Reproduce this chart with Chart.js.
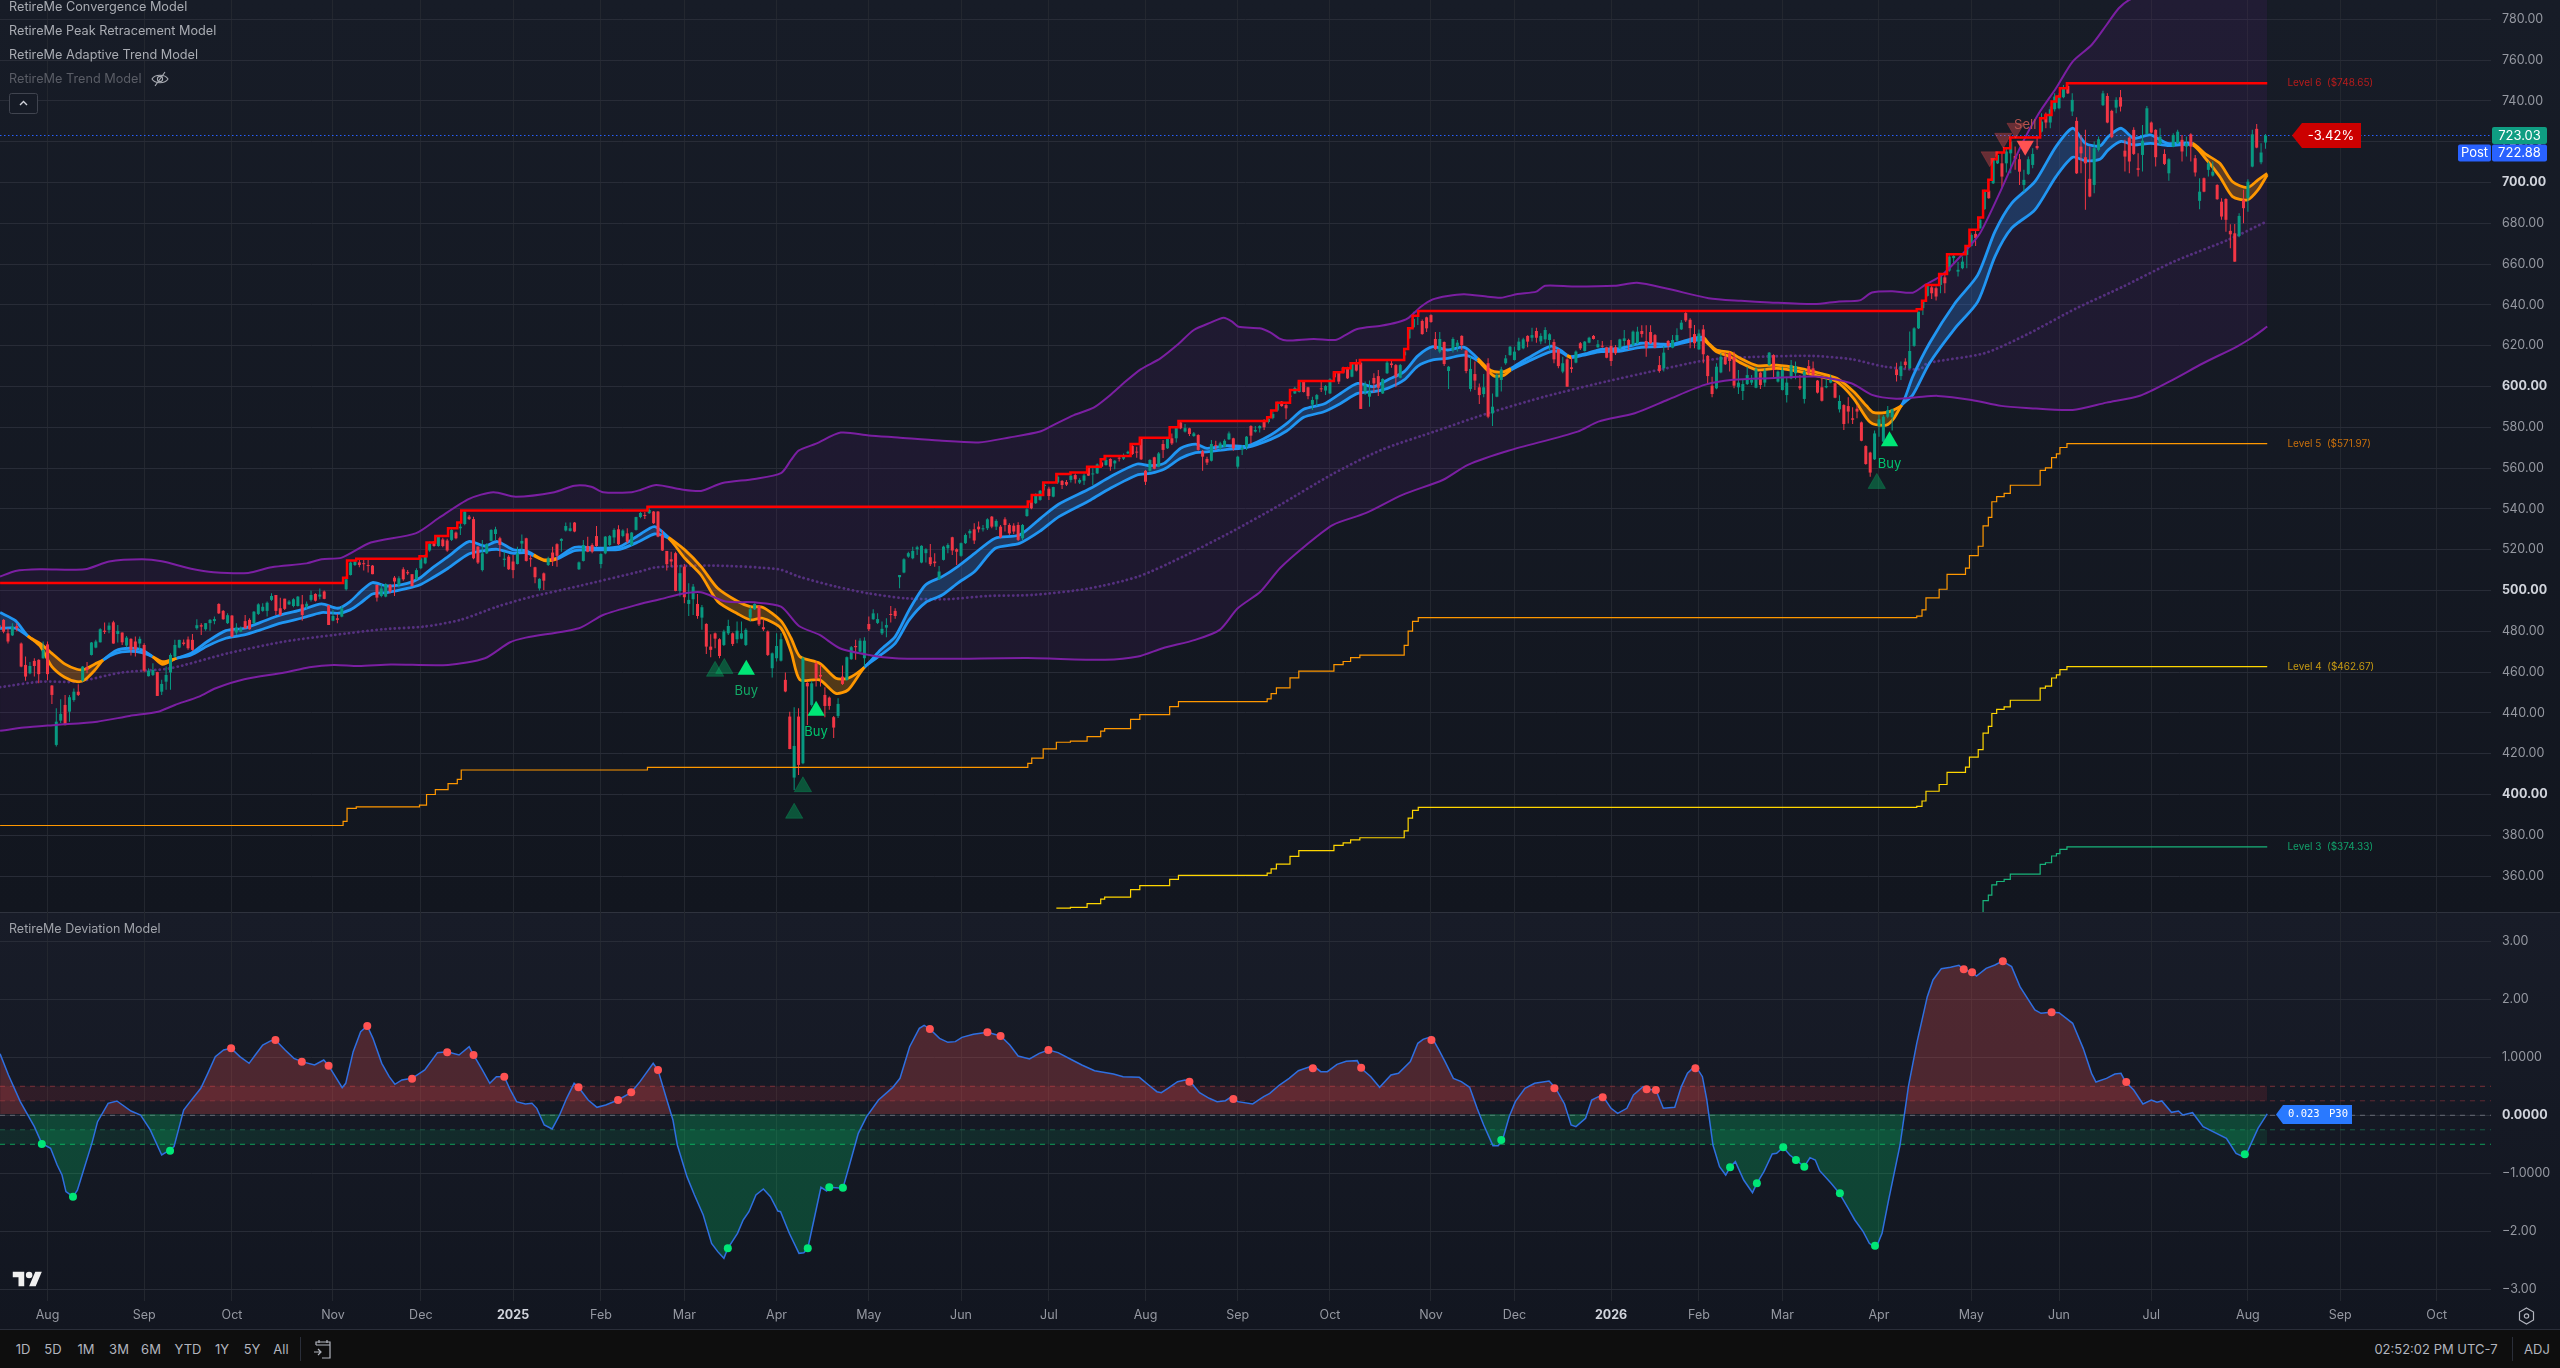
<!DOCTYPE html>
<html>
<head>
<meta charset="utf-8">
<title>RetireMe chart</title>
<script src="https://cdn.jsdelivr.net/npm/chart.js@4/dist/chart.umd.min.js"></script>
<style>
  html, body { margin: 0; width: 2560px; height: 1368px; overflow: hidden; background: #0e0e0e; font-family: Inter, sans-serif; }
  #pricePane { position: absolute; left: 0; top: 0; width: 2560px; height: 912px; background: linear-gradient(#171c27, #12161f); }
  #devPane { position: absolute; left: 0; top: 912px; width: 2560px; height: 417px; background: linear-gradient(#181c28, #121620); border-top: 1px solid #2f333e; box-sizing: border-box; }
  #footer { position: absolute; left: 0; top: 1329px; width: 2560px; height: 39px; background: #0e0e0e; border-top: 1px solid #2a2e39; box-sizing: border-box; }
  canvas { position: absolute; left: 0; }
  .legend { position: absolute; left: 9px; font-size: 12.7px; line-height: 16px; color: #a9acb3; white-space: nowrap; }
  .btn { position: absolute; font-size: 13px; color: #b2b5be; transform: translateX(-50%); top: 10px; line-height: 18px; }
  svg { position: absolute; }
</style>
</head>
<body>
<div id="pricePane"></div>
<div id="devPane"></div>
<div id="footer">
  <span class="btn" style="left:23px">1D</span><span class="btn" style="left:53px">5D</span>
  <span class="btn" style="left:86px">1M</span><span class="btn" style="left:119px">3M</span>
  <span class="btn" style="left:151px">6M</span><span class="btn" style="left:188px">YTD</span>
  <span class="btn" style="left:222px">1Y</span><span class="btn" style="left:252px">5Y</span>
  <span class="btn" style="left:281px">All</span>
  <span style="position:absolute;left:300px;top:7px;width:1px;height:24px;background:#2a2e39"></span>
  <svg style="left:313px;top:9px" width="20" height="21" viewBox="0 0 20 21" fill="none" stroke="#b2b5be" stroke-width="1.2"><path d="M3 6V3h14v3M3 6h14M6 1v3M14 1v3M17 6v13h-8M1 13h7M5 10l3 3-3 3"/></svg>
  <span class="btn" style="left:2436px;transform:translateX(-50%)">02:52:02 PM UTC-7</span>
  <span style="position:absolute;left:2512px;top:7px;width:1px;height:24px;background:#2a2e39"></span>
  <span class="btn" style="left:2537px">ADJ</span>
</div>
<canvas id="priceChart" width="2560" height="912" style="top:0"></canvas>
<canvas id="devChart" width="2560" height="417" style="top:912px"></canvas>
<div class="legend" style="top:-1px">RetireMe Convergence Model</div>
<div class="legend" style="top:23px">RetireMe Peak Retracement Model</div>
<div class="legend" style="top:47px">RetireMe Adaptive Trend Model</div>
<div class="legend" style="top:71px;color:#5a5d66">RetireMe Trend Model</div>
<svg style="left:151px;top:71px" width="18" height="16" viewBox="0 0 18 16" fill="none" stroke="#a9acb3" stroke-width="1.1"><path d="M1 8c3-5 13-5 16 0-3 5-13 5-16 0z"/><circle cx="9" cy="8" r="2.6"/><path d="M4 15L14 1"/></svg>
<svg style="left:9px;top:93px" width="29" height="21" viewBox="0 0 29 21" fill="#161b26" stroke="#40444f"><rect x="0.5" y="0.5" width="28" height="20" rx="2"/><path d="M11 12l3.5-3.5L18 12" fill="none" stroke="#d1d4dc" stroke-width="1.4"/></svg>
<div class="legend" style="top:921px;font-size:12.5px;color:#a0a3aa">RetireMe Deviation Model</div>
<svg style="left:12px;top:1270px" width="31" height="18" viewBox="0 0 36 22" fill="#f0f0f0"><path d="M14 20H7V9H0V2h14v18zM28 20h-8l7.5-18h8L28 20z"/><circle cx="20" cy="6" r="4"/></svg>
<svg style="left:2518px;top:1307px" width="17" height="18" viewBox="0 0 17 18" fill="none" stroke="#b2b5be" stroke-width="1.2"><path d="M8.5 1l7 4v8l-7 4-7-4V5z"/><circle cx="8.5" cy="9" r="2.2"/></svg>

<script>
// Candles, one per trading bar (index = bar number)
const opens = [
  483,485.6,479,478,482.5,474,463.5,459.4,465.5,466,
  466.8,473.6,453.4,424.3,436.2,443.9,440.6,446.3,450.4,455.8,
  462.4,468.4,472,474.6,480.3,480.7,484.4,478.7,479.4,473,
  476.3,475,474,473.3,458,458.6,460,450.4,455.3,459.8,
  467.6,472,474.5,476,475.8,481.5,483,481,484,485,
  493.4,490,484,487.7,479.4,479.8,485,485.6,484,488.5,
  490,490,495.4,497.8,491.3,496,493.2,492.4,492.4,493.2,
  492,495.4,498.3,497,499.5,492.6,485.2,486.4,487.2,500.6,
  507.6,512.5,513.8,513.3,512.5,512.2,502.7,497.3,497,502.7,
  506.3,502.7,510.4,509,508,505.5,510.9,513.3,519.6,524,
  521.8,525,524.5,524.8,528.4,530.5,532.6,536.2,535,521.5,
  510,518.2,524.3,527.7,525.6,515,516.6,514.2,513,523,
  525.6,515.8,511.4,501,508.4,512.5,518.6,522.7,524.3,529.4,
  529.2,533.3,510.4,514.5,521.8,522.3,526.7,513,518.2,522.3,
  526,530,526.7,528,522.3,529.7,536,537,537.9,538.7,
  538.7,527.2,519.4,515.3,518.3,499.8,511.7,493.4,495.7,493.4,
  486.7,483.6,472.5,479,476.1,473.3,479,479,476.1,476.4,
  473.3,486.7,490.8,492.4,482,479.9,461.9,466.8,465.6,456.2,
  438.2,408.3,438.2,415.3,454.7,443.9,464.3,458.6,448.8,447.5,
  437.9,438.5,457.8,456.2,466.3,472.8,470,466.8,483.6,485.9,
  484.1,479,481.8,488.5,490,506.5,508.8,516.6,515.8,520.2,
  513.7,518.3,516.3,514.2,505.5,515,520.7,526.1,520.2,517,
  523.2,528,530,531.3,530,530.5,536.2,531.3,531.3,534.9,
  532.1,531.8,532.1,525.6,536.5,543.6,542.8,544.4,551.2,549.9,
  546,552.9,553.7,553.2,554.2,556.6,552.9,553.8,560.2,556.9,
  557.4,562.8,561.5,564.5,562.3,565.1,564.6,567.2,570.8,567.9,
  574.3,558.7,558.7,565.3,560.7,571.8,569.7,574.6,574.6,582.4,
  577.9,579.5,575.7,576.2,568.2,564.5,563.6,571.2,569.7,570.5,
  574.1,574.6,560.7,569.2,570.5,580.6,577.9,579.5,583.6,582.6,
  584.6,588.2,592.6,590.9,595,596.6,597.3,602.7,599.6,591.1,
  593.7,599.1,598,596.6,607,606.8,609.2,609.2,604.8,611.7,
  611.7,597.5,595,604.2,605.1,596.6,606.5,611.3,610.5,604.3,
  615.3,623.6,629,636.2,632.1,633.9,635,623.3,617.1,621.8,
  607.6,617.9,619.5,624.8,617.6,598.8,606.1,599.6,596.3,611.4,
  586.8,595,603.2,611.4,615.4,613,617.9,618.7,624.8,623.9,
  627.2,622.1,623.1,622.8,621.8,618.2,607.3,613.3,609.4,611.7,
  621.2,617.4,621.5,624.8,619.2,619.9,619.2,619.9,619.2,618.7,
  622.3,622.8,620.3,621.2,627.2,622.3,626.7,625.2,610.5,608.9,
  622.3,619,622.5,628,636,632.7,625.7,618.2,628,615,
  600.4,599.1,606.9,614.6,616.3,614.3,599.6,597.8,601.2,601.9,
  599.4,606.8,601.9,610.5,615.4,602.4,598.3,595.8,604,606.5,
  600.2,593.9,610,608.9,602.9,599.6,599.6,601.9,601.6,588.8,
  590.9,590.4,584.4,589.1,582.4,570.8,567.6,564.3,580.6,573,
  585.2,584.9,608.4,605.1,612.2,608.9,619.9,628.5,638.4,644.4,
  648.6,648.2,649.8,653.5,656.8,662.9,656.3,658,664.5,668.9,
  674.8,677.6,686.9,696,699.6,709.4,709.4,709.4,714.3,713,
  711.4,698.8,704.2,708.6,717.9,724.9,733.1,729.4,735.9,736.4,
  741.8,747.3,734.8,730.2,717.6,712.4,701.8,698.8,716,737.9,
  742.4,735.1,736.7,741.8,715.6,722,725.8,707,713.5,723.8,
  729.4,725.8,718.9,714,704.5,717.6,719.2,720.9,717.6,723.6,
  711.9,691,702.1,706.2,703.4,698.8,690.6,691.9,676.3,675.1,
  673.8,691.5,692.3,707.8,726.3,709.9,719.6
];
const closes = [
  481.5,479.8,475,482.3,481.5,462.7,457.8,463,463,459,
  470.9,459,448.8,435.7,439.5,434,447.7,450.4,448.8,462.7,
  461,474.5,475,481,479.7,482.8,474,480.2,474.6,476.9,
  470.9,471.2,476.3,460.7,460.7,461,448.3,454.2,458.6,468.4,
  473.3,475.8,473.8,471.7,470.9,483,482.3,484,485.6,486,
  488.8,485.9,487.9,477.4,481.8,481.5,481.5,481,489.6,493.2,
  492,494,497.3,490,488,491,494.6,495.7,497,488,
  493.5,497.8,495,498,495.9,483.1,487.5,485.6,491.3,505.5,
  513.7,514.2,512.5,512.9,512,508,496.5,501,503.2,499.5,
  504.4,506,505.5,508.4,502.2,510,515.8,517,523,521.8,
  526.4,521.8,519.6,529.7,525.6,531.3,538.7,535,515.8,513.7,
  518.2,522.8,529.7,530,522.3,515.6,510.4,510,518.2,524.3,
  514.5,515.3,506.5,505.7,504.8,515.8,514.5,517,525.3,531.6,
  530.5,528.9,513.8,522.3,519,519,521.8,517.9,526.4,526.7,
  529.7,522.7,529.4,524,528.4,536,538,536.5,539.5,533,
  526.4,519.6,512.9,514.2,499.8,508.5,496.7,495.4,501.9,487.5,
  491.8,472.5,470.9,476.4,467.9,479.9,482.6,473.8,480.3,479,
  480.7,490.8,493.4,483.4,481,468.4,469.2,472.8,476.1,450.5,
  422.3,423.8,414.5,466.8,453,454.5,457,457.8,443.4,443.4,
  432.8,444.4,454.2,467.3,472.2,472.2,475.4,475.4,481,488.8,
  486,481.2,483.1,488,487.5,507.6,515.3,518.3,519.4,521.2,
  521.9,520.2,512.9,513.4,509.3,521.5,522.3,519.6,519,523.2,
  527.2,529.2,524.5,530,530.5,534.9,531.3,534.1,526.1,532.1,
  528,528.9,524.8,532.1,539.8,540.3,546.4,548.9,551.8,546.3,
  550.7,555.8,551.7,551.9,556.3,554.5,554.2,556.4,556.3,557.2,
  561.8,560.7,564,560.7,563.6,564.6,566.4,568,566.9,567.6,
  564.3,553.3,564,559.7,567.2,568.9,574.3,572.1,580,579.5,
  579.6,576.7,577,568.9,565.6,562.7,571.8,570.8,572.1,573.4,
  577,569.7,565.6,570,575.4,575.9,578.7,580.6,580,584.2,
  586.5,591.7,590.4,589.3,595.3,599.3,602.4,597.3,595.3,593.4,
  595.8,598.6,600.2,603.5,604.5,602.4,606.8,604,611.4,607.8,
  589,601,597.5,601.5,599.4,603.7,611.7,610.5,604.8,610.5,
  617.1,628.5,633.1,636.7,625.7,628.5,631.6,618.4,623.3,611,
  609.7,623.3,621.5,620.3,607.6,608.6,602.9,595.8,599.6,585.2,
  590.1,605.6,608.4,613.8,619.5,617.1,622,623.1,622,625.2,
  623.9,624.8,627.7,625.6,613.3,610,611.4,599.9,608.6,617.1,
  618.7,622,623.9,623.3,620.7,619.5,614.1,612.5,616.3,623.1,
  623.6,620.3,626.9,626.9,625.7,619,621.2,619,607.6,616.6,
  619.9,622.8,625.2,631.3,632.4,628.6,621.2,626,615.8,605.1,
  596.3,609.7,614.6,610.9,612.5,600.4,601.9,601.2,605.6,603.2,
  608.4,600.7,607.8,616.6,608.1,607.3,608.1,601.9,610.5,610,
  599.1,607.3,606.5,605.6,597,593,600.2,603.5,594.5,592.9,
  581.6,587.7,583.7,587.7,573.4,562,557.8,577,583.9,585.2,
  588.5,588.8,605.6,610,610.5,617.4,628.5,636.7,641.6,649.3,
  645.7,644.1,654.2,650.6,663.7,664,657.2,661.2,668.6,674.3,
  672.7,681.7,695.5,692.3,711.4,713.5,702.9,715.2,720.1,711.4,
  705.3,701.3,711.4,714,716.8,729.9,729.4,735.9,742.1,742.9,
  746.5,743.7,740.5,704.5,714.3,709.4,693.1,716.8,721.2,743.7,
  729.4,722.2,740.5,737.2,712.7,710.3,714,706.2,720.5,736.4,
  724.5,712.4,722.5,709.1,711.4,723.3,724.9,715.2,719.2,717.6,
  704.9,695.5,695.5,709.4,705.3,691.8,683.3,681.7,674.6,661.2,
  683.6,687.4,700.4,723.6,717.1,714.7,723.03
];
const highs = [
  484,486,481.5,484,484,474.5,467.6,465,466.8,466.3,
  475,475,453.7,442.3,446.7,448.8,448.8,452,454,463,
  465,474.8,475.8,481.5,484.3,484.3,485.2,483.1,479.4,477.7,
  476.6,477.4,477.4,474.1,461.9,464.3,460.2,456.2,462.7,469.2,
  475.8,475.8,476,477.4,478.7,485.9,484,484,486,487.2,
  493.7,490.5,488.8,488,484,482.3,488,486.4,490,493.7,
  493.7,494.6,498.6,497.8,496.5,496,495.4,496.2,497.3,497.8,
  494.6,500,498.6,501,500,492.9,490.5,488.5,492.4,506.8,
  514.2,515,515.6,515.3,515.3,512.5,503,503.2,503.5,503.2,
  507.1,507,511.4,510,508,510.9,517,517.8,524,524,
  527,525.9,525.4,530.8,528.9,533.8,539.2,537,536.2,521.8,
  524.8,523.1,530,531.3,526.4,519,517.4,517.4,521.5,527.4,
  525.9,517.4,511.7,506,508.8,516.6,521.5,523.1,525.6,533.3,
  533.3,533.6,514.2,524.8,526.4,523.1,531.6,518.2,526.7,527.2,
  530.5,532,530,530.5,528.7,536.2,538.5,538.5,540.3,539,
  539,529.7,519.4,519,519,512.5,513,503.6,503.2,498.3,
  492.9,483.9,478.6,479.4,476.6,480.7,485.6,479.4,484.8,484.8,
  481.5,492.1,493.7,492.9,485.9,480.4,469.6,479,479,459.8,
  440.6,442.8,442.3,467.6,455.4,455.7,465.2,463.5,452.6,448,
  438.5,447.2,463.2,467.6,472.8,475.8,476.6,477.1,487.2,490.8,
  488.8,484.8,486.4,492.4,491.3,507.6,515.8,519,521.5,521.9,
  522.2,520.7,522.8,518.3,512,521.9,523.2,526.4,520.7,523.5,
  528,530,533,533.8,532.1,535.4,536.5,534.9,532.1,535.9,
  533,533,533.4,532.6,540.3,544.7,547.7,549.3,552.9,550.9,
  550.9,557.1,554.2,554.2,557.4,557.4,555,557.4,560.7,559.9,
  562.3,564.8,565.9,564.8,564,565.9,567.2,568.5,572.1,570.5,
  575.1,559.1,564.3,565.6,567.9,573.8,574.6,577,580.3,583.2,
  581.6,579.8,577.7,576.6,568.9,565.6,573.8,573.4,572.9,574.1,
  577.9,574.9,566.1,571.3,575.7,581,580.6,581,583.9,585.2,
  587.7,592.6,592.9,591.7,598.3,599.9,602.9,603.2,599.9,595,
  596.3,602.4,600.7,604,607.3,607.1,609.7,609.7,611.7,613.3,
  613,602.4,602.9,606.5,608.1,604,612.7,612.7,611,611,
  618.7,628.8,636.7,637.2,632.9,634.2,635.4,626.7,626.7,622.1,
  610,624.1,622.8,625.1,617.9,614.6,612.2,601.5,606.1,613.8,
  596.6,606.5,609.7,615.4,619.8,619.5,623.9,623.9,625.1,628.8,
  628.8,626.1,629,626.1,623.1,618.5,614.6,613.8,614.6,617.6,
  621.8,622.3,624.4,625.2,622.8,622.3,619.5,622.8,620.3,623.4,
  627.7,623.4,627.4,629.3,630,630,630,625.7,615,619.9,
  622.8,625.2,628.5,632.6,636.8,633.5,630.1,628,630.1,615.4,
  604.8,611.4,616.3,616.8,617,617,608.1,603.5,609.7,605.6,
  609.7,607.3,608.9,616.9,615.8,607.8,609.7,604.8,613,612.2,
  605.6,608.1,613,612.2,603.2,604,604,605.6,601.9,595.7,
  591.3,594.7,589.8,590.9,582.8,571.2,568,578.4,586,586,
  590.4,589.1,611.7,612.2,613.8,626.9,629,636.7,642.4,649.8,
  649.8,649,655.2,655.5,664.8,664.5,661.2,663.7,668.9,675.1,
  677.1,683,696.4,701.3,711.9,714.7,714.7,716.8,720.9,717.6,
  714,706.2,712.7,716.8,722.5,733.9,734.3,737.2,743.7,743.7,
  747.8,748.6,743.7,732,723.3,725.8,717.6,720.1,722.5,745,
  743.7,735.6,741.8,745.4,720.9,722.5,727.1,714.3,728.2,737.5,
  729.9,726.1,726.6,716.3,711.9,724.1,725.8,723.3,722.5,724.1,
  713.5,702.1,702.4,710.3,710.3,699.1,692.3,692.3,679.5,679.7,
  684.9,696.4,701.6,725.8,728.7,719.2,723.8
];
const lows = [
  481,479,474,477.7,480,462.4,455.8,459,457.8,454.5,
  466.5,456,444.4,423.5,435,434,435.7,445.5,448.3,455.3,
  459.4,468.1,471.7,474.5,478.7,479,473.9,474.5,473.3,472.2,
  468.1,467.6,470.9,459.9,457.8,458.1,448.3,448.8,451.3,451.3,
  467.1,471.7,473,470.9,470.5,480.7,478.2,480.3,480.3,483.5,
  488.5,485.6,483.6,477.1,478.2,479.5,481.2,480.7,483.6,488,
  489.6,487.2,494.9,488,487.5,490.5,492.9,491.8,492.1,485.2,
  491,494.6,494.6,495.7,495.7,483.1,484.9,484,486.9,500,
  507.3,512,511.4,509.8,508.8,508,494.6,496.7,496.7,498.6,
  497.3,501.5,504.8,507.6,501.9,505.2,510.4,512.9,519,521.5,
  521.5,521.2,519,524.3,525.1,527.2,532,534.6,515.3,513,
  509.3,517.9,524,524.8,516.6,511.7,510,506,512.7,519,
  514.2,511.7,503.5,500,500.3,512,512,511.7,519,528.9,
  528.9,528.5,510,514.2,518.7,518.2,521.5,510.9,517.8,521.8,
  523.1,522.3,526.1,523.1,521.8,529.4,535.4,535,537.5,532.6,
  526.1,519.4,509.8,511.7,499.6,497,493.8,487.5,488,486.2,
  480.7,468.9,467.3,471.7,466.8,472.8,478.2,472.8,474.1,476.1,
  472.8,484.8,490.5,482.6,480.2,467.9,457.3,465.2,465.2,450.1,
  422.2,402.2,409.6,414.8,434.1,443.1,452.9,452.9,437.9,441.5,
  427.7,437.5,453.7,455.8,466,466,469.7,462.7,480.2,485.6,
  483.6,478.2,477.1,484.3,486.1,501.1,508.5,516.1,515.3,517.4,
  513.4,513.7,512,511.7,505.2,514.7,518.3,517.4,512.5,516.6,
  522.8,525.6,522.8,528.4,528.9,529.7,530.5,529.7,525.6,528.9,
  527.2,527.7,524.3,524.8,536.2,539.8,542.4,544,549,544.4,
  545.7,552.2,549.8,551.2,552.9,552.5,552.2,551.7,556.1,551.7,
  557.1,560.4,561.2,558.7,559.4,563.2,564,566.9,566.4,565.1,
  564,551.7,558.2,559.4,560.4,565,569.4,571.3,572.5,579,
  577.5,575.7,575.4,568.5,558.7,561.5,563.2,568.9,568.9,570.2,
  573.8,568.5,559.7,566.4,568.9,572.1,577.5,577.4,578.7,581.9,
  583.9,587.8,590.1,583.9,592.9,596.3,597,597,593.7,588.5,
  590.4,597.3,595.8,596.3,604.3,601.2,606.5,603.7,604.5,607.3,
  589,595.8,590.1,597,595.3,596.3,606.1,609.2,599.6,604,
  614.9,623.3,628.7,630.1,625.4,626.7,631.3,617.9,616.3,610,
  598.8,616.7,617.1,617.9,606.5,597.5,598.3,591.4,594.7,584.4,
  580.6,594.7,597.5,610.7,615.1,612.7,617.4,618.2,619.2,622,
  621.5,620.7,621.2,617.9,611.4,608.9,606.5,599.9,606.8,611.4,
  617.9,617.1,621.2,623,619,619,613.8,610,615.4,618.4,
  619.9,617.9,619.9,620.8,624,614.6,620.8,618.7,606.8,607.3,
  617.9,618.7,622,627.7,631.6,618.7,618.7,617.9,611.4,601.2,
  594.7,598.6,606.5,610.5,607.3,599.1,596.3,593.4,600.7,600.7,
  599.1,598.8,599.9,610.2,604.5,602,598,592.1,603.5,603.5,
  598.3,591.7,605.6,604.8,596.6,592.6,599.1,601.6,594.2,587.2,
  578.7,581.9,581.6,584.4,573.1,561.7,555.8,564,575.4,572.6,
  584.4,578.4,602.4,603.2,608.9,608.6,619.5,628.2,635.1,644.1,
  642.9,642.1,645.7,645.7,656.3,660.4,653.9,657.5,658,668.6,
  668.9,677.1,686.6,692,699.3,709.1,697.2,704.9,704.5,706.2,
  698.8,695.5,703.7,707,716,724.5,726.6,726.6,734.8,735.9,
  741.3,743.4,732.6,704.2,704.5,686.6,692.8,694.7,715.2,737.5,
  729,721.7,733.9,734.8,705.4,704.5,713.5,702.9,705.4,723.3,
  724.1,707.8,718.4,708.6,700.9,717.3,718.9,710.3,712.7,710.3,
  702.9,686.9,695.2,702.9,702.9,691.5,681.7,675.9,667.8,661.2,
  673.2,680,685.7,707.5,716.8,708.9,716.5
];

// Convergence bands (x = bar number, y = price)
const upperX = [0.2,3.7,9.3,19.5,25,32.5,37,43.7,48.8,56.7,62,70,73.4,78,84.6,94.8,100,107,112.5,117.6,
  126.4,131,134.8,137.5,144,146,149.6,155.2,159.8,164.5,172,178,180.3,182,186,191.6,198,204.6,214,223,
  230,237,240,244.7,249.2,253,256,259.9,264.4,268.2,272,275.8,278.8,280.7,282.2,287,289.5,291.4,293.2,299.3,
  304.2,306.5,309.2,314.6,318.4,320.7,323.7,326.4,329.8,333.6,338.9,341.9,345.7,350,352,358.5,367.8,372.9,379.9,389.2,
  396.6,403.1,413.3,418.9,423.6,426.4,431,435.7,438.5,442.4,447.2,451,455.8,460.6,464.4,468.3,472.1,476.4,479.8,482.6,
  485,495,516.4];
const upperY = [506.8,509.6,510.4,510.4,514.2,515.3,514.3,510.7,509,508.6,511.4,513.3,515.3,516.1,523.5,528,535.4,544.9,548.2,546,
  548.2,551.4,550.9,548.2,548.2,549.3,551.7,549.6,548.8,552.6,554.7,557.5,564,568.6,572,577.4,576,575,573.5,572.6,
  575,577.9,581.1,586,589.6,595.8,601.6,608.4,613.8,620.3,627.7,631.3,633.7,631.8,629.3,628.5,626.4,623.6,622.5,623.3,
  622.8,625.2,628.2,629.8,631.5,633.4,639.1,642.7,644.4,645.2,644,643.5,645.3,646.5,649.4,649,649.4,650.8,647.9,643.3,
  642,641.2,640.4,641.7,642.2,646.1,646.7,646,649.8,654.7,665.3,675.1,696.4,719.2,733.9,746.2,759.3,767.4,777.2,785.4,
  789.5,800,815];
const lowerX = [0.2,5.6,13,22.3,29.7,36.2,40,45.5,49.3,55.8,65,70.6,76.2,81.8,89.2,102.2,110.6,116.2,119.9,132,
  137.5,145.9,150.5,155.2,159.8,165.4,171.9,178,182.1,186.8,191.4,198,204,215.6,234.2,251.8,259.3,264.9,272.3,277.9,
  282,287.2,291.6,297.2,303.7,311.1,319.5,328.8,334.4,343.6,359.4,364.1,372.4,379.9,388.3,394.8,403.1,413.3,421.7,426.4,
  431.9,436.6,441.4,449.1,455.8,461.5,472.1,479.8,487.4,494.1,501.8,509.5,513.3,516.4];
const lowerY = [431.2,432.8,434.1,435.7,438.5,440.6,443.9,448,452.1,456.5,459.8,462.4,463.5,463,463.7,463.5,466.8,474.5,476.9,481.5,
  488,493.4,495.7,498.3,499.1,494.6,494.2,492.1,482.6,478.2,471.7,468.4,466.8,466.5,466.9,466,467.6,471.7,475.8,480.7,
  491.3,499.5,510.9,521.6,532.2,537.9,546.9,554.3,561.6,568.5,577.9,582.8,586.9,593.5,600.8,603.3,604.1,604.9,601.6,595.9,
  594,594.7,595.4,593.4,590.5,589.5,588.5,592.1,595.5,602.4,611.4,619.6,624.5,629.4];
const midX = [0.2,9.3,17.7,27.9,39,52,65,76.2,87.4,96.7,105,113.4,120.8,132,145.9,149.6,162.6,177.5,182.1,190.5,
  197.9,206.3,215.6,224.9,235.1,248.1,259.3,269.5,280.7,291.6,303.7,314.8,326.9,339,352,366,378,389.2,398.5,412.4,
  421.7,429.1,437.3,439,452,461.5,473,483.6,495.1,507.5,516.2];
const midY = [452.6,455.3,455.3,459.8,461.9,469.2,475,478.2,481,482.3,485.6,492.1,496.7,502.2,509.3,511.4,512.2,510.4,506.8,501.9,
  498.6,496.2,495.7,497.3,497.8,501,506.8,516.6,528.9,541.9,557.2,569,578,586.9,595.1,602.5,608.2,613.1,614.4,615,
  613.4,609.8,608.4,611.4,616.3,625.3,638.4,649,661.2,671.9,680.8];

// Adaptive trend ribbon: two lines on shared x
const ribbonX = [0.2,3.7,6.5,9.3,12,14.9,17.7,19.5,21.8,23.7,26.5,29.7,32.5,34.9,37.2,40.4,43.7,47.4,51.6,55.8,
  59.5,64.1,68.8,73.4,77.1,79.9,82.7,85,88.3,92.9,95.7,98.5,102.2,106.9,110.6,113.4,117.1,119.9,121.7,124.1,
  126.9,131,136.6,141.3,145.7,149.2,152.4,156.1,159.8,163.6,168.2,171,173.8,178,180.3,182.3,186.8,190.5,193.3,197,
  200.7,204,207.2,210.9,214.7,218.4,222.1,226.8,232.3,237.1,241.3,248.5,253,259.1,262.1,265.2,269,272.4,275,279.6,
  284.1,289.5,293.2,297,301.6,305.4,309.3,313,316.1,319.9,323,326.4,329.8,333.6,336.6,338.9,340.4,342.7,344.2,348,
  353.3,355.6,357,357.9,361.6,364.7,369.2,373.8,378.2,381.2,385.7,388,389.2,391,394.1,396.4,400.2,404.7,410,414.6,
  418.4,422.2,425.2,426.7,429.7,431.3,433.2,435.7,439.5,445.3,450.5,454.4,458.2,463.5,468.3,472.1,475,478.3,480.2,483.1,
  486,489.8,493.7,499.4,502.3,505.6,508.5,511.9,514.3,516.4];
const ribbonTop = [489.2,485.2,477.7,474.1,469.2,464,461.4,461.4,464,466,470.5,471.7,470.9,467.6,465.1,466.8,469.2,475,480.3,481.5,
  484.4,488,490.5,493.4,491.3,494.6,500.3,503.9,502.2,503.5,506,510.9,516.6,524,521.8,524,519.9,519.6,517.5,515,
  515.8,521.2,520.7,521.5,527.2,531.3,526.1,519.9,511.7,501.1,494.6,492.1,491.8,485.1,476.6,467.6,464.3,457,457,462.4,
  470.9,477.4,490.5,502.7,506.8,512,518.2,525.6,527.2,535.4,542.4,550.1,555.8,562,561.2,562.3,569.7,571.8,569.7,571,
  570.8,576.2,581.9,588.8,591.4,596.6,601.5,599.9,603.2,607.3,615,619.5,617.9,619.2,613.8,608.9,607.3,607.3,608.9,613.8,
  619.8,617.6,615.4,614.6,616.3,618.2,618.7,621.2,620.8,620.8,623.6,624.1,621.2,617.9,616.7,613.8,610.2,610.5,608.9,606.5,
  604,597.5,590.4,587.3,587.3,588.5,590.9,604.9,621.2,640.8,654.7,675.9,689.8,700.4,717.6,726.6,719.2,717.9,722.5,726.6,
  721.7,723.3,719.2,719.2,714,709.4,700.4,697.5,701.3,704.5];
const ribbonBottom = [481.5,481.5,477.7,472.8,462.7,457.5,455.3,456.2,461,466,469.2,470.2,469.6,467.6,463.8,466.8,468.4,472.8,476.6,478.2,
  480.7,484,486.4,489.2,488.8,490.5,494.6,498.3,499,501,502.7,506,510.9,517.9,519.6,520.2,518.2,518.6,517,514.7,
  515.3,519.6,519.9,520.2,524,527.7,525.6,515.8,507.6,494.6,488.5,485.6,486.4,481.5,470,456.2,456.2,449.6,451.3,462.4,
  468.4,474.1,485.6,494.1,497.8,503.9,509.3,520.7,523.1,529.3,536.2,544.4,550.1,556.6,557.4,559.4,564.8,567.6,567.9,569.2,
  570.2,574.1,578.3,584.9,587.6,591.7,596.6,597.5,599.1,603.2,610,613,613.8,615.4,612.7,607.8,605.1,605.6,608.1,612.2,
  617.1,616.8,615,614.1,615.8,617.1,617.4,619.2,619.5,620.2,622.5,622.8,620.7,617,614.6,611.7,608.1,608.9,607.3,604.8,
  602.4,594.2,584.4,581.6,581.1,584.1,590.9,595.9,611.4,628.5,641.6,663.7,677.6,686.6,702.9,712.4,710.7,711.4,716,720.1,
  718.4,719.2,718.1,718.4,711.9,702.9,693.1,691.5,696.4,703.7];
const orangeStarts = [6.5,34.9,121.7,152.4,336.6,357,388,499.4];
const orangeEnds = [23.7,40.4,126.9,197,344.2,357.9,433.2,516.4];

// Peak retracement levels: stepped lines, new value from each stepX on
const stepX = [0.2,78.3,79.2,81.3,95.7,97.3,99.3,102.2,104.3,105.2,147.6,234.2,235.1,237.7,240.7,243.9,247.7,250.8,251.7,257.6,
  259.7,266.5,268.5,288.7,289.6,290.8,293.9,295.9,303.9,306,307.7,309.8,319.9,320.8,321.8,323.1,436.6,437.8,438.7,441.7,
  443.5,447.7,448.6,450.6,451.7,452.9,453.7,454.8,456.5,457.9,464.7,465.9,467.3,468.4,469.2,470.8,516.4];
const level6 = [503.7,506.3,514.7,515.6,516.8,523.5,526.7,530.5,533.3,539.2,541,543.6,546.8,552.9,557.1,557.8,560.7,564.3,565.9,571.8,
  574.9,580,583.1,584.9,588.2,592,598.3,602.7,607,608.9,611.4,613,618.4,628.5,634.7,637,637.9,642,649.8,655.2,
  664.8,668.9,676.8,682.8,696,701.3,711.4,714.7,716.8,722,731.5,733.1,739.7,742.1,746.2,748.65,748.65];
const level5 = [384.8,386.8,393.2,393.9,394.8,400,402.4,405.3,407.4,412,413.3,415.3,417.8,422.4,425.6,426.2,428.4,431.1,432.3,436.8,
  439.2,443.1,445.5,446.9,449.4,452.3,457.2,460.5,463.7,465.2,467.1,468.3,473.1,480.1,484.9,486.7,487.4,490.5,496.4,500.6,
  507.9,511,517.1,521.7,531.7,535.8,543.5,546,547.6,551.6,558.9,560.1,565.1,567,570.1,571.97,571.97];
const level4 = [344.3,344.7,346.5,348.7,349.7,353.4,355.3,358.4,360.4,361.5,363.5,365.9,369.7,372.5,375.1,376.3,377.8,378.8,382.2,388.4,
  392.2,393.7,394.2,396.8,401.6,404.9,410.8,413.4,418.3,422,430.1,433.4,439.7,441.7,443,446.2,452.1,453.1,457.1,458.6,
  461.2,462.67,462.67];
const level3 = [341.4,348,350.65,355.7,357.35,358.4,361,365.75,366.55,369.85,371.05,373.1,374.33,374.33];

// Signal markers
const buyX = [170.1,186,430.4];
const buyY = [461.2,441.1,573.1];
const buyDimX = [163,165.1,181,183,427.5];
const buyDimY = [460.4,461.8,390.8,403.8,552.5];
const sellX = [461.3];
const sellY = [718];
const sellDimX = [453.2,456.3,459.1];
const sellDimY = [712.6,721.7,726.6];
const buyTextX = [170.1,186,430.4];
const buyTextY = [450.5,430.4,562.2];
const sellTextX = [461.3];
const sellTextY = [728.2];

// Deviation oscillator
const devX = [0.2,2.1,4.8,8,9.7,11.7,13.2,14.3,15.2,16.8,
  17.8,19.1,21.1,22.4,24.8,26.8,30,32.2,34.4,37,
  38.9,39.8,42,43.3,45.9,47.5,49.2,51.1,52.8,54.8,
  56.9,58.3,60,61.9,62.9,65.1,67.1,68.9,71.8,73.9,
  75,78.1,78.9,80.6,82.3,83.8,85.1,87.1,88.8,90.1,
  91.7,94,96.9,99.8,102,104.7,107,108,110,111.7,
  113.2,115,116.2,117.8,119.8,121.3,122.4,124.1,125.9,127.6,
  129.2,130.9,131.9,134.1,136.1,138.1,140.9,143.9,145.9,148.9,
  150,151.8,153.4,154.4,156.6,158.3,160.3,162.2,163.6,165,
  165.9,168.1,169.4,170.7,172.3,174,175.6,177.3,177.9,179.9,
  182.1,183.2,184.1,185.5,187.1,188.4,189,192.1,193.6,195.6,
  197.5,200.2,203.4,205.1,207.3,209.5,210.6,211.9,214.1,216,
  217.7,219.2,221.8,225,228,230.1,232,234.6,236.8,238.9,
  241.1,244.3,246.5,249.4,253.7,255.9,259.6,261.7,263.6,264.6,
  266.1,268.3,270,271.2,273.3,275.5,277.3,279.2,280.6,282,
  285.4,287.9,289.3,291.5,293.7,295.8,299.2,300.9,302.4,304.6,
  306.7,309.2,310.1,312.3,314.3,316.9,318.6,321.3,323,324.2,
  326.1,327.8,329.2,331.1,332.9,334.8,336.5,338,340.1,341.3,
  342.3,343.8,345.2,347.4,349.6,352.9,354.4,356.4,357.9,359,
  361.2,362.6,364.1,365.3,367,368.5,370.6,372.1,374.3,375.3,
  377.2,378.9,381.5,383,384.4,386.2,387.8,388.8,390.2,391.7,
  393.1,394.1,395.3,397.2,399.2,400.2,401.8,403.7,404.7,406.2,
  407.7,409.1,411,412.3,413.5,414.5,417.1,419,421,422.5,
  424.4,425.8,427.3,428.7,430.2,432.8,434.7,436.6,439,440.3,
  442.2,444.3,446.2,447.2,449.3,450.2,452.4,454.4,456.1,458.2,
  460.1,463.5,464.9,467.1,469,472.1,474.5,476.4,477.4,479.8,
  481.7,483.1,484.1,486,488.1,490,491.3,492.4,494.6,496.2,
  497.2,499.4,501.8,507.1,509.3,510.9,511.9,514.3,516.4];
const devY = [1.06,.695,.235,-.196,-.484,-.57,-.857,-1.03,-1.317,-1.403,
  -1.29,-.972,-.484,-.11,.206,.247,.074,.005,-.253,-.684,
  -.598,-.54,.09,.218,.465,.723,1.011,1.126,1.155,1.011,
  .896,1.04,1.212,1.287,1.298,1.126,.982,.925,.867,.953,
  .856,.476,.551,1.097,1.442,1.54,1.327,.896,.666,.534,
  .609,.637,.781,1.08,1.097,1.04,1.183,1.04,.781,.551,
  .666,.666,.465,.235,.195,.206,.12,-.167,-.236,.005,
  .293,.551,.482,.264,.137,.178,.264,.396,.58,.896,
  .781,.321,-.081,-.512,-1.058,-1.374,-1.719,-2.208,-2.351,-2.466,
  -2.294,-2.035,-1.805,-1.662,-1.374,-1.271,-1.403,-1.65,-1.662,-2.035,
  -2.38,-2.369,-2.294,-1.805,-1.242,-1.305,-1.242,-1.259,-.857,-.311,
  -.024,.264,.476,.637,1.183,1.499,1.551,1.488,1.327,1.258,
  1.27,1.344,1.396,1.43,1.367,1.212,1.022,.971,1.068,1.126,
  1.08,.953,.867,.769,.712,.666,.654,.522,.407,.39,
  .465,.58,.609,.58,.39,.293,.235,.252,.321,.235,
  .195,.321,.379,.522,.637,.769,.856,.752,.752,.879,
  .93,.942,.81,.666,.482,.695,.724,.925,1.241,1.31,
  1.356,1.126,.925,.637,.58,.482,.12,-.167,-.524,-.524,
  -.426,-.024,.235,.465,.551,.591,.465,.195,-.167,-.196,
  -.052,.264,.321,.31,.12,.034,.12,.35,.494,.448,
  .436,.12,.137,.494,.724,.856,.666,.264,-.512,-.886,
  -1.03,-.897,-.8,-1.116,-1.334,-1.173,-.972,-.667,-.656,-.552,
  -.684,-.771,-.886,-.73,-.771,-.955,-1.173,-1.346,-1.604,-1.805,
  -2.006,-2.208,-2.294,-2.035,-1.46,-.512,.494,1.241,2.045,2.333,
  2.528,2.551,2.586,2.517,2.459,2.402,2.534,2.591,2.66,2.563,
  2.218,1.815,1.758,1.775,1.77,1.586,1.154,.723,.574,.637,
  .712,.723,.58,.436,.195,.264,.224,.247,.051,.074,
  .005,.045,-.196,-.397,-.656,-.713,-.627,-.225,.023];
const overboughtX = [52.8,62.9,68.9,75,83.8,94,102,108,115,131.9,140.9,143.9,150,211.9,225,228,238.9,271,281,299.1,310.1,326.1,354.1,365.1,375.1,377.2,386.2,447.3,449.2,456.2,467.3,484.3];
const overboughtY = [1.155,1.298,.925,.856,1.54,.63,1.085,1.04,.666,.482,.264,.396,.781,1.488,1.43,1.367,1.126,.58,.28,.81,.82,1.298,.465,.31,.448,.436,.81,2.517,2.465,2.655,1.775,.574];
const oversoldX = [9.7,16.8,38.9,165.9,184.1,189,192.1,342,394.1,400.2,406.2,409.1,411,419.1,427.1,511.3];
const oversoldY = [-.495,-1.403,-.61,-2.294,-2.294,-1.242,-1.248,-.426,-.897,-1.173,-.552,-.771,-.886,-1.346,-2.248,-.673];

// Axis ticks
const monthTicks = [11,33,53,76,96,117,137,156,177,198,219,239,261,282,303,326,345,367,387,406,428,449,469,490,512,533,555];
const monthLabels = ['Aug','Sep','Oct','Nov','Dec','2025','Feb','Mar','Apr','May','Jun','Jul','Aug','Sep','Oct','Nov','Dec','2026','Feb','Mar','Apr','May','Jun','Jul','Aug','Sep','Oct'];
const priceTicks = [780,760,740,720,700,680,660,640,620,600,580,560,540,520,500,480,460,440,420,400,380,360];
const devTicks = [3,2,1,0,-1,-2,-3];
const devTickLabels = ['3.00','2.00','1.0000','0.0000','\u22121.0000','\u22122.00','\u22123.00'];

const lastPrice = 723.03;
const postPrice = 722.88;
const lastBar = 516.4;
const X_MIN = 0.182, X_MAX = 567.35;
const GRID_H = '#282c37', GRID_V = '#23272f';
const AXIS_TEXT = '#9598a1', AXIS_BOLD = '#d1d4dc';

const zip = (xs, ys) => xs.map((x, i) => ({ x, y: ys[i] }));

function isOrange(ctx) {
  const x = ctx.p0.parsed.x;
  return orangeStarts.some((s, i) => x >= s && x < orangeEnds[i]);
}
const ribbonSegment = {
  borderColor: (ctx) => (isOrange(ctx) ? '#ff9800' : '#2196f3'),
  backgroundColor: (ctx) => (isOrange(ctx) ? 'rgba(255,152,0,0.27)' : 'rgba(33,150,243,0.24)')
};

// scriptable tick options also get called without a tick, hence the guards
const isYearTick = (c) => /^20/.test(monthLabels[c.index] || '');

function timeScale(showLabels) {
  return {
    type: 'linear', min: X_MIN, max: X_MAX, offset: false,
    grid: { color: GRID_V, drawTicks: false, offset: false },
    border: { display: false },
    afterBuildTicks: (s) => { s.ticks = monthTicks.map((value) => ({ value })); },
    // panes run edge to edge, so drop the room Chart.js keeps for label overhang
    afterFit: (s) => { s.height = showLabels ? 28 : 0; s.paddingLeft = 0; s.paddingRight = 0; },
    ticks: {
      display: showLabels, autoSkip: false, maxRotation: 0, padding: 7,
      color: (c) => (isYearTick(c) ? AXIS_BOLD : AXIS_TEXT),
      font: (c) => ({ family: 'Inter', size: 12.5, weight: isYearTick(c) ? 'bold' : 'normal' }),
      callback: (v, i) => monthLabels[i]
    }
  };
}

function rightScale(min, max, tickValues, labelFor, isBold) {
  const boldTick = (c) => !!c.tick && isBold(c.tick.value);
  return {
    position: 'right', min, max,
    grid: { color: GRID_H, drawTicks: false },
    border: { display: false },
    afterBuildTicks: (s) => { s.ticks = tickValues.map((value) => ({ value })); },
    afterFit: (s) => { s.width = 69; s.paddingTop = 0; s.paddingBottom = 0; },
    ticks: {
      autoSkip: false, padding: 11,
      color: (c) => (boldTick(c) ? AXIS_BOLD : AXIS_TEXT),
      font: (c) => ({ family: 'Inter', size: 12.5, weight: boldTick(c) ? 'bold' : 'normal' }),
      callback: labelFor
    }
  };
}

function tag(ctx, x, y, w, h, bg, text, font, color) {
  ctx.fillStyle = bg;
  ctx.beginPath();
  ctx.roundRect(x, y, w, h, 2);
  ctx.fill();
  ctx.fillStyle = color || '#ffffff';
  ctx.font = font || '13px Inter';
  ctx.textAlign = 'center';
  ctx.textBaseline = 'middle';
  ctx.fillText(text, x + w / 2, y + h / 2 + 0.5);
}

const priceLabels = {
  id: 'priceLabels',
  afterDraw(chart) {
    const { ctx, scales: { x, y } } = chart;
    ctx.save();
    ctx.textAlign = 'left';
    ctx.textBaseline = 'middle';
    ctx.font = '10px Inter';
    const levels = [
      ['Level 6  ($748.65)', 748.65, '#b71c1c'],
      ['Level 5  ($571.97)', 571.97, '#c9700c'],
      ['Level 4  ($462.67)', 462.67, '#c79a12'],
      ['Level 3  ($374.33)', 374.33, '#12a06a']
    ];
    levels.forEach(([text, price, color]) => {
      ctx.fillStyle = color;
      ctx.fillText(text, x.getPixelForValue(521), y.getPixelForValue(price));
    });
    ctx.textAlign = 'center';
    ctx.font = '13px Inter';
    buyTextX.forEach((bx, i) => {
      ctx.fillStyle = i === 0 ? '#12a866' : '#00c46e';
      ctx.fillText('Buy', x.getPixelForValue(bx), y.getPixelForValue(buyTextY[i]));
    });
    sellTextX.forEach((sx, i) => {
      ctx.fillStyle = '#b5524e';
      ctx.fillText('Sell', x.getPixelForValue(sx), y.getPixelForValue(sellTextY[i]));
    });

    // percent flag left of the axis
    const py = y.getPixelForValue(lastPrice);
    ctx.fillStyle = '#cc0000';
    ctx.beginPath();
    ctx.moveTo(2292, py);
    ctx.lineTo(2302, py - 12.5);
    ctx.lineTo(2361, py - 12.5);
    ctx.lineTo(2361, py + 12.5);
    ctx.lineTo(2302, py + 12.5);
    ctx.closePath();
    ctx.fill();
    ctx.fillStyle = '#ffffff';
    ctx.fillText('-3.42%', 2331, py + 0.5);

    tag(ctx, 2492, py - 8.5, 55, 17, '#0f9d82', lastPrice.toFixed(2));
    tag(ctx, 2458, py + 9, 33, 17, '#2962ff', 'Post');
    tag(ctx, 2492, py + 9, 55, 17, '#2962ff', postPrice.toFixed(2));
    ctx.restore();
  }
};

const devLabels = {
  id: 'devLabels',
  afterDraw(chart) {
    const { ctx, scales: { y } } = chart;
    const py = y.getPixelForValue(0.023) + 0.5;
    ctx.save();
    ctx.fillStyle = '#2979ff';
    ctx.beginPath();
    ctx.moveTo(2276, py);
    ctx.lineTo(2283, py - 9.5);
    ctx.lineTo(2352, py - 9.5);
    ctx.lineTo(2352, py + 9.5);
    ctx.lineTo(2283, py + 9.5);
    ctx.closePath();
    ctx.fill();
    ctx.fillStyle = '#ffffff';
    ctx.font = '10.5px "DejaVu Sans Mono"';
    ctx.textAlign = 'left';
    ctx.textBaseline = 'middle';
    ctx.fillText('0.023', 2288, py);
    ctx.fillText('P30', 2329, py);
    ctx.restore();
  }
};

const candleColors = closes.map((c, i) => (c >= opens[i] ? '#089981' : '#f23645'));

new Chart(document.getElementById('priceChart'), {
  type: 'bar',
  data: {
    datasets: [
      // band fill at the very back
      { type: 'line', data: zip(upperX, upperY), borderWidth: 0, pointRadius: 0, tension: 0.25, fill: '+1', backgroundColor: 'rgba(123,31,162,0.1)', order: 60 },
      { type: 'line', data: zip(lowerX, lowerY), borderWidth: 0, pointRadius: 0, tension: 0.25, order: 61 },
      { type: 'line', data: zip([X_MIN, X_MAX], [lastPrice, lastPrice]), borderColor: '#2962ff', borderWidth: 1, borderDash: [1.5, 2.5], pointRadius: 0, order: 55 },
      { type: 'line', data: zip(midX, midY), borderColor: '#55307f', borderWidth: 2.8, borderDash: [0.1, 4.5], borderCapStyle: 'round', pointRadius: 0, tension: 0.25, order: 50 },
      // trend ribbon
      { type: 'line', data: zip(ribbonX, ribbonTop), borderColor: '#2196f3', borderWidth: 2.8, pointRadius: 0, tension: 0.25, fill: '+1', segment: ribbonSegment, order: 40 },
      { type: 'line', data: zip(ribbonX, ribbonBottom), borderColor: '#2196f3', borderWidth: 2.8, pointRadius: 0, tension: 0.25, segment: { borderColor: ribbonSegment.borderColor }, order: 41 },
      // candles
      { data: highs.map((h, i) => ({ x: i, y: [lows[i], h] })), backgroundColor: candleColors, barThickness: 1, grouped: false, inflateAmount: 0, borderWidth: 0, order: 31 },
      { data: opens.map((o, i) => ({ x: i, y: [o, closes[i]] })), backgroundColor: candleColors, barThickness: 3, grouped: false, inflateAmount: 0, borderWidth: 0, minBarLength: 1, order: 30 },
      // band strokes and levels over the candles
      { type: 'line', data: zip(upperX, upperY), borderColor: '#7b1fa2', borderWidth: 2, pointRadius: 0, tension: 0.25, order: 20 },
      { type: 'line', data: zip(lowerX, lowerY), borderColor: '#7b1fa2', borderWidth: 2, pointRadius: 0, tension: 0.25, order: 20 },
      { type: 'line', data: zip(stepX.slice(43), level3), borderColor: '#18b47a', borderWidth: 1.2, pointRadius: 0, stepped: 'before', order: 15 },
      { type: 'line', data: zip(stepX.slice(14), level4), borderColor: '#ffd600', borderWidth: 1.2, pointRadius: 0, stepped: 'before', order: 15 },
      { type: 'line', data: zip(stepX, level5), borderColor: '#ff9800', borderWidth: 1.2, pointRadius: 0, stepped: 'before', order: 15 },
      { type: 'line', data: zip(stepX, level6), borderColor: '#ff0000', borderWidth: 2.5, pointRadius: 0, stepped: 'before', order: 10 },
      // signals
      { type: 'line', data: zip(buyDimX, buyDimY), showLine: false, pointStyle: 'triangle', pointRadius: 10, pointBackgroundColor: 'rgba(0,200,110,0.35)', pointBorderColor: 'rgba(0,200,110,0.25)', order: 6 },
      { type: 'line', data: zip(buyX, buyY), showLine: false, pointStyle: 'triangle', pointRadius: 10, pointBackgroundColor: '#00e676', pointBorderColor: '#00e676', pointBorderWidth: 0, order: 5 },
      { type: 'line', data: zip(sellDimX, sellDimY), showLine: false, pointStyle: 'triangle', pointRotation: 180, pointRadius: 10, pointBackgroundColor: 'rgba(255,82,82,0.35)', pointBorderColor: 'rgba(255,82,82,0.2)', order: 6 },
      { type: 'line', data: zip(sellX, sellY), showLine: false, pointStyle: 'triangle', pointRotation: 180, pointRadius: 10, pointBackgroundColor: '#ff5252', pointBorderWidth: 0, order: 5 }
    ]
  },
  plugins: [priceLabels],
  options: {
    responsive: false, animation: false, devicePixelRatio: 1,
    layout: { padding: 0, autoPadding: false },
    plugins: { legend: { display: false }, tooltip: { enabled: false } },
    scales: {
      x: timeScale(false),
      y: rightScale(342.4, 789.46, priceTicks, (v) => v.toFixed(2), (v) => v % 100 === 0)
    }
  }
});

const thresholds = [[0.5, '#7a3038'], [0.25, '#5f2a33'], [0, '#666a75'], [-0.25, '#1a5c48'], [-0.5, '#0f9d58']];

new Chart(document.getElementById('devChart'), {
  type: 'line',
  data: {
    datasets: [
      { data: zip([X_MIN, lastBar], [0.5, 0.5]), borderWidth: 0, pointRadius: 0, fill: '+1', backgroundColor: 'rgba(242,54,69,0.12)', order: 20 },
      { data: zip([X_MIN, lastBar], [0.25, 0.25]), borderWidth: 0, pointRadius: 0, order: 21 },
      { data: zip([X_MIN, lastBar], [-0.25, -0.25]), borderWidth: 0, pointRadius: 0, fill: '+1', backgroundColor: 'rgba(0,230,118,0.09)', order: 20 },
      { data: zip([X_MIN, lastBar], [-0.5, -0.5]), borderWidth: 0, pointRadius: 0, order: 21 },
      { data: zip(devX, devY), borderColor: '#2f6fe0', borderWidth: 1.5, pointRadius: 0, order: 5,
        fill: { target: { value: 0.023 }, above: 'rgba(255,82,82,0.24)', below: 'rgba(0,230,118,0.22)' } },
      ...thresholds.map(([v, color]) => ({ data: zip([X_MIN, X_MAX], [v, v]), borderColor: color, borderWidth: 1, borderDash: [5, 5], pointRadius: 0, order: 10 })),
      { data: zip(overboughtX, overboughtY), showLine: false, pointRadius: 4, pointBackgroundColor: '#ff5252', pointBorderWidth: 0, order: 2 },
      { data: zip(oversoldX, oversoldY), showLine: false, pointRadius: 4, pointBackgroundColor: '#00e676', pointBorderWidth: 0, order: 2 }
    ]
  },
  plugins: [devLabels],
  options: {
    responsive: false, animation: false, devicePixelRatio: 1,
    layout: { padding: 0, autoPadding: false },
    plugins: { legend: { display: false }, tooltip: { enabled: false } },
    scales: {
      x: timeScale(true),
      y: rightScale(-3.202, 3.505, devTicks, (v, i) => devTickLabels[i], (v) => v === 0)
    }
  }
});
</script>
</body>
</html>
